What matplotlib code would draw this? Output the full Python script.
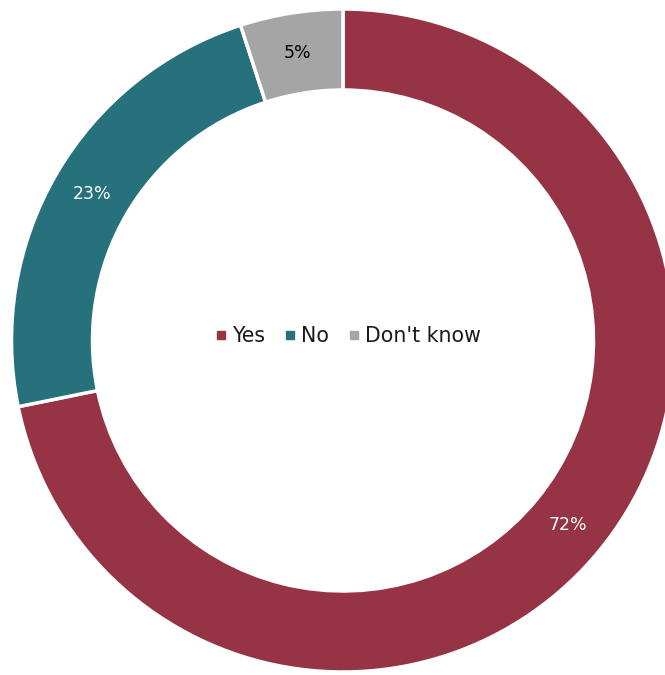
import matplotlib
matplotlib.use("Agg")
import matplotlib.pyplot as plt
from matplotlib.lines import Line2D

categories = ["Yes", "No", "Don't know"]
values = [71.8, 23.2, 5.0]
colors = ["#963446", "#26717C", "#A5A5A5"]
label_colors = ["white", "white", "black"]

plt.rcParams['font.family'] = ['DejaVu Sans']

W, H = 665, 675
fig = plt.figure(figsize=(W / 100, H / 100), dpi=100)
ax = fig.add_axes([0, 0, 1, 1])

R = 331.5
ring = 81
cx, cy = 343, H - 340.5

wedges, texts, autotexts = ax.pie(
    values, startangle=90, counterclock=False, radius=R, center=(cx, cy),
    colors=colors, autopct="%.0f%%", pctdistance=(R - ring / 2) / R,
    wedgeprops=dict(width=ring, edgecolor="white", linewidth=2.5),
    textprops=dict(fontsize=12.5), frame=False)
for t, c in zip(autotexts, label_colors):
    t.set_color(c)

ax.set_xlim(0, W)
ax.set_ylim(0, H)
ax.set_aspect("equal")
ax.axis("off")

handles = [Line2D([], [], marker="s", linestyle="none", markersize=6,
                  markerfacecolor=c, markeredgecolor=c) for c in colors]
leg = ax.legend(handles, categories, loc="center", bbox_to_anchor=(348 / W, 339 / H),
                ncol=3, frameon=False, fontsize=14.8, handlelength=0.6,
                handletextpad=0.25, columnspacing=0.9)
for t in leg.get_texts():
    t.set_color("#1a1a1a")

fig.savefig("out.png", dpi=100)
